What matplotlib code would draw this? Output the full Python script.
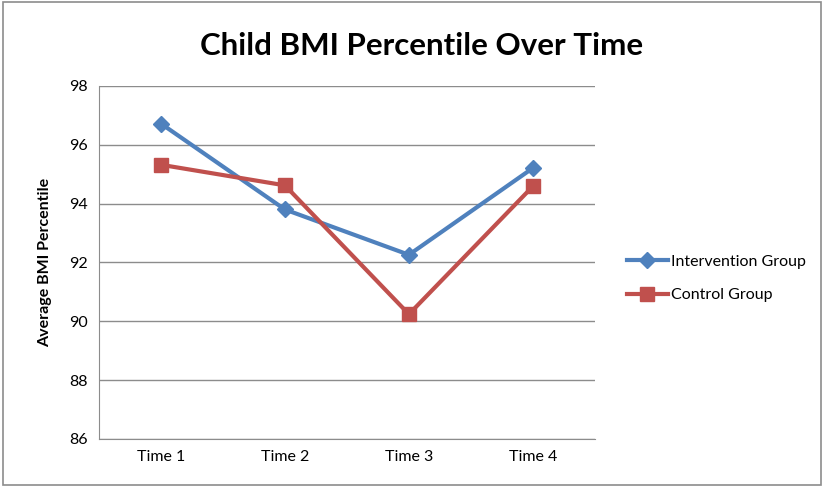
import numpy as np
import matplotlib.pyplot as plt
from matplotlib.patches import Rectangle

plt.rcParams['font.family'] = ['Lato', 'DejaVu Sans']

times = ['Time 1', 'Time 2', 'Time 3', 'Time 4']
intervention = [96.72, 93.80, 92.26, 95.21]
control = [95.32, 94.62, 90.24, 94.59]

fig = plt.figure(figsize=(8.24, 4.87), dpi=100)
ax = fig.add_axes([0.120, 0.0986, 0.602, 0.725])

x = np.arange(len(times))
ax.plot(x, intervention, color='#4F81BD', lw=3, marker='D', ms=8,
        label='Intervention Group')
ax.plot(x, control, color='#C0504D', lw=3, marker='s', ms=10,
        label='Control Group')

ax.set_xlim(-0.5, 3.5)
ax.set_ylim(86, 98)
ax.set_yticks(np.arange(86, 99, 2))
ax.set_xticks(x)
ax.set_xticklabels(times)
ax.tick_params(length=0, labelsize=11.5, pad=8)
ax.grid(axis='y', color='#8c8c8c', lw=1)
ax.set_axisbelow(True)
for s in ['top', 'right']:
    ax.spines[s].set_visible(False)
for s in ['left', 'bottom']:
    ax.spines[s].set_color('#8c8c8c')

ax.set_ylabel('Average BMI Percentile', fontsize=11.5, fontweight='bold', labelpad=12)
fig.text(0.511, 0.905, 'Child BMI Percentile Over Time', ha='center', va='center',
         fontsize=22.5, fontweight='bold')

ax.legend(loc='center left', bbox_to_anchor=(1.035, 0.455), frameon=False,
          fontsize=11.5, handlelength=2.6, labelspacing=1.2, handletextpad=0.2)

fig.add_artist(Rectangle((0.004, 0.004), 0.992, 0.992, transform=fig.transFigure,
                         fill=False, edgecolor='#8c8c8c', lw=1.2))

fig.savefig('out.png', dpi=100)
